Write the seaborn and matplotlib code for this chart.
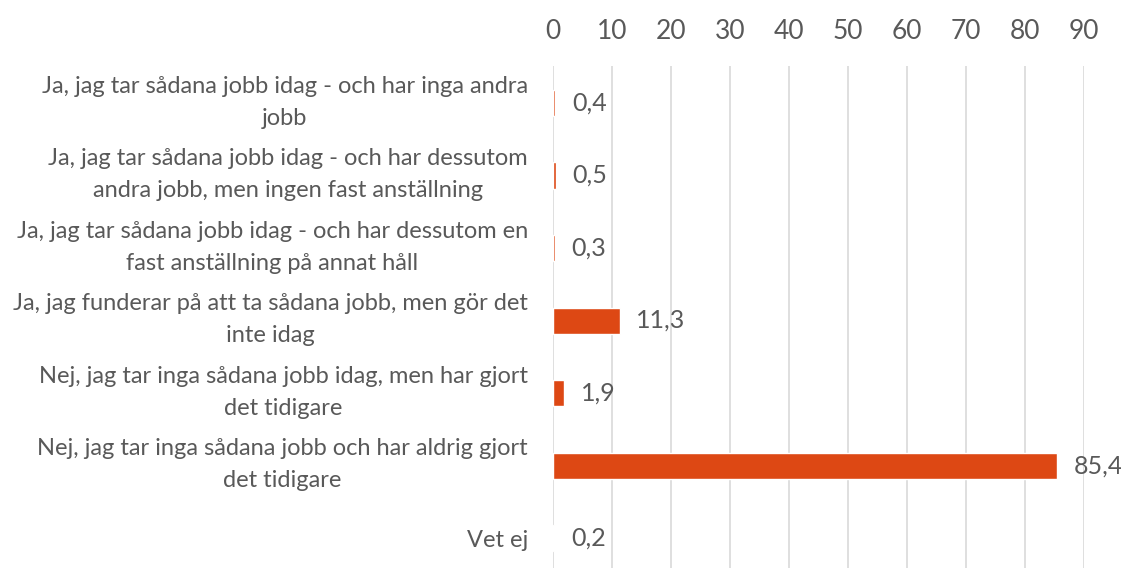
import pandas as pd
import seaborn as sns
import matplotlib.pyplot as plt
import matplotlib.transforms as mtransforms

# survey answers and share (percent)
answers = ['Ja, jag tar sådana jobb idag - och har inga andra\njobb',
           'Ja, jag tar sådana jobb idag - och har dessutom\nandra jobb, men ingen fast anställning',
           'Ja, jag tar sådana jobb idag - och har dessutom en\nfast anställning på annat håll',
           'Ja, jag funderar på att ta sådana jobb, men gör det\ninte idag',
           'Nej, jag tar inga sådana jobb idag, men har gjort\ndet tidigare',
           'Nej, jag tar inga sådana jobb och har aldrig gjort\ndet tidigare',
           'Vet ej']
shares = [0.4, 0.5, 0.3, 11.3, 1.9, 85.4, 0.2]
ticks = list(range(0, 100, 10))

df = pd.DataFrame({'answer': answers, 'share': shares})

sns.set_theme(style='white')
plt.rcParams['font.family'] = ['Lato', 'DejaVu Sans']

textcol = '#595959'
barcol = '#DD4814'

fig = plt.figure(figsize=(11.21, 5.68), dpi=100)
ax = fig.add_axes([0.4933, 0.0, 0.4737, 0.884])

sns.barplot(data=df, x='share', y='answer', color=barcol, width=0.36,
            saturation=1, ax=ax, zorder=3)

ax.set_xlim(0, 90)
ax.set_ylim(6.41, -0.51)
ax.set_xticks(ticks)
ax.xaxis.tick_top()
ax.tick_params(axis='x', length=0, pad=16, labelsize=19, labelcolor=textcol)
ax.tick_params(axis='y', length=0, pad=18, labelsize=17, labelcolor=textcol)

# nudge the two-line labels up a little so they sit centred on the bars
shift = mtransforms.ScaledTranslation(0, 6 / 72, fig.dpi_scale_trans)
for lab in ax.get_yticklabels():
    lab.set_multialignment('center')
    lab.set_linespacing(1.65)
    if '\n' in lab.get_text():
        lab.set_transform(lab.get_transform() + shift)

ax.grid(axis='x', color='#d9d9d9', linewidth=1.2, zorder=0)
for s in ax.spines.values():
    s.set_visible(False)
ax.set_xlabel('')
ax.set_ylabel('')

# value labels with comma decimal
for i, v in enumerate(shares):
    ax.annotate(str(v).replace('.', ','), xy=(v, i), xytext=(12, 0),
                textcoords='offset points', va='center', ha='left',
                fontsize=18, color=textcol)

plt.savefig('out.png', dpi=100)
